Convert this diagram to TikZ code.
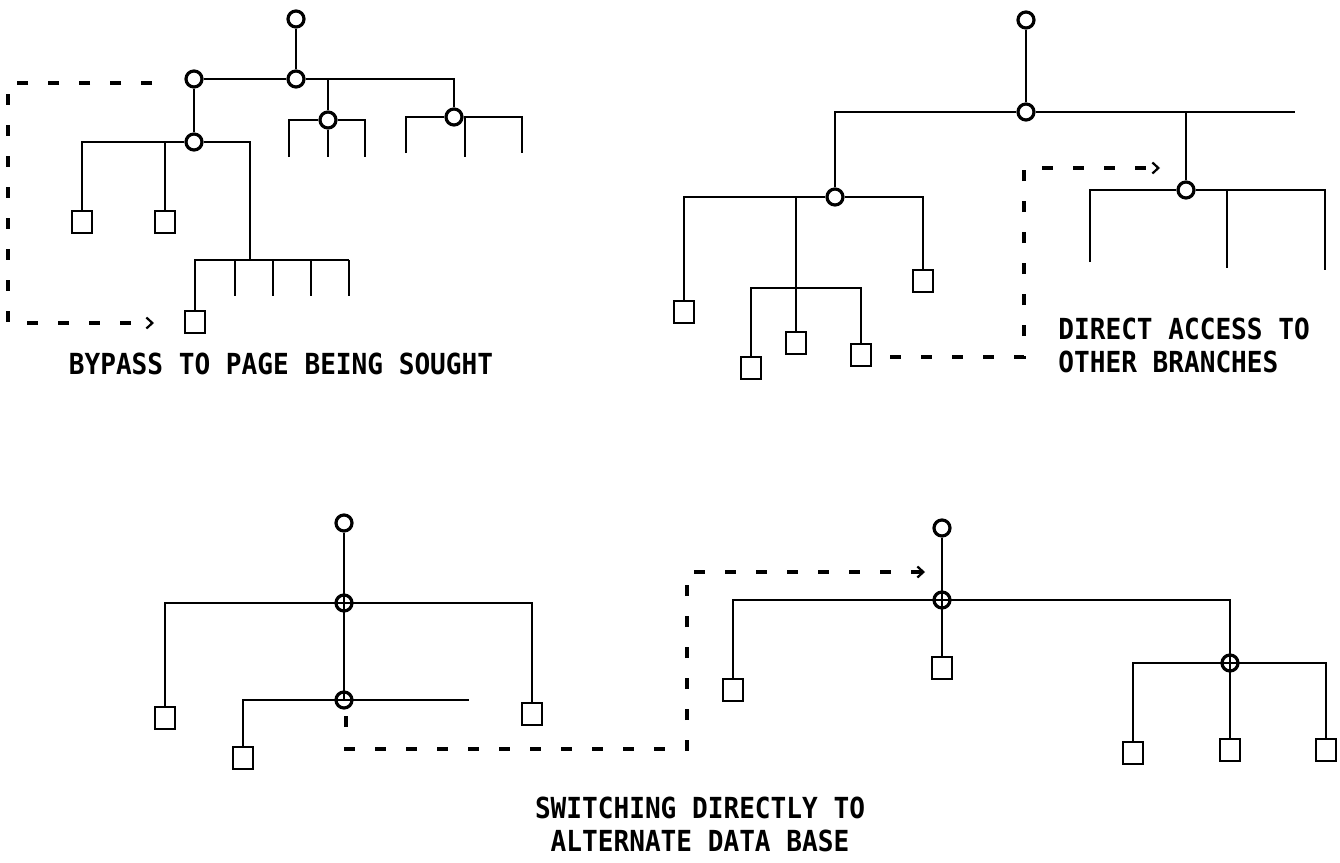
\documentclass[tikz,border=0pt]{standalone}
\usepackage{fontspec}
\newfontfamily\notefont[FakeStretch=0.9]{DejaVu Sans Mono}
\usetikzlibrary{arrows.meta,positioning}

\begin{document}
\begin{tikzpicture}[x=1pt, y=-1pt, line width=2.8pt,
  knot/.style={circle, draw, line width=3.2pt, fill=white, minimum size=16pt, inner sep=0pt},
  crossknot/.style={circle, draw, line width=3.2pt, minimum size=16pt, inner sep=0pt},
  page/.style={draw, line width=2.8pt, fill=white, minimum width=20pt, minimum height=22pt, inner sep=0pt},
  jump/.style={line width=3.6pt, dash pattern=on 11pt off 20pt, -{Straight Barb[length=6pt,width=11pt,line width=2.2pt]}},
  note/.style={font=\notefont\bfseries\fontsize{29}{33}\selectfont, inner sep=0pt}
]
\useasboundingbox (0,0) rectangle (1340,862);

% bypass tree
\node[knot] (root1) at (296,19) {};
\node[knot] (hub1) at (296,79) {};
\node[knot] (left1) at (194,79) {};
\node[knot] (mid1) at (328,120) {};
\node[knot] (right1) at (454,117) {};
\node[knot] (low1) at (194,142) {};
\node[page] (p1) at (82,222) {};
\node[page] (p2) at (165,222) {};
\node[page] (p3) at (195,322) {};
\draw (root1) -- (hub1);
\draw (left1) -- (hub1);
\draw (hub1) -| (right1);
\draw (hub1 -| mid1) -- (mid1);
\draw (left1) -- (low1);
\draw (289,157) |- (mid1) -| (365,157);
\draw (mid1) -- (328,157);
\draw (406,153) |- (right1) -| (522,153);
\draw (465,117) -- (465,157);
\draw (p1) |- (low1) -| (250,260);
\draw (p2) -- (p2 |- low1);
\draw (p3) |- (349,260);
\foreach \x in {235,273,311,349}
  \draw (\x,260) -- (\x,296);
\coordinate (bypassstart) at (152,83);
\coordinate (bypassend) at (154,323);
\draw[jump] (bypassstart) -| (8,323) -- (bypassend);
\node[note] (bypass) at (281,364) {BYPASS TO PAGE BEING SOUGHT};

% direct access tree
\node[knot] (root2) at (1026,20) {};
\node[knot] (hub2) at (1026,112) {};
\node[knot] (left2) at (835,197) {};
\node[knot] (right2) at (1186,190) {};
\node[page] (q1) at (684,312) {};
\node[page] (q2) at (751,368) {};
\node[page] (q3) at (796,343) {};
\node[page] (q4) at (861,355) {};
\node[page] (q5) at (923,281) {};
\draw (root2) -- (hub2);
\draw (left2) |- (hub2);
\draw (hub2) -- (1295,112);
\draw (hub2 -| right2) -- (right2);
\draw (q1) |- (left2) -| (q5);
\draw (796,197) -- (796,288);
\draw (q2) |- (796,288) -| (q4);
\draw (796,288) -- (q3);
\draw (1090,262) |- (right2) -| (1325,270);
\draw (1227,190) -- (1227,268);
\coordinate (accessstart) at (890,357);
\coordinate (accessend) at (1160,168);
\draw[jump] (accessstart) -- (1024,357) |- (accessend);
\node[note, anchor=west, align=left] (access) at (1057,345) {DIRECT ACCESS TO\\OTHER BRANCHES};

% first data base
\node[knot] (root3) at (344,523) {};
\node[crossknot] (hub3) at (344,603) {};
\node[crossknot] (low3) at (344,700) {};
\node[page] (r1) at (165,718) {};
\node[page] (r2) at (243,758) {};
\node[page] (r3) at (532,714) {};
\draw (root3) -- (low3.center);
\draw (r1) |- (hub3.center) -| (r3);
\draw (r2) |- (low3.center) -- (469,700);

% alternate data base
\node[knot] (root4) at (942,528) {};
\node[crossknot] (hub4) at (942,600) {};
\node[crossknot] (low4) at (1230,663) {};
\node[page] (s1) at (733,690) {};
\node[page] (s2) at (942,668) {};
\node[page] (s3) at (1133,753) {};
\node[page] (s4) at (1230,750) {};
\node[page] (s5) at (1326,750) {};
\draw (root4) -- (s2);
\draw (s1) |- (hub4.center) -| (low4.center);
\draw (s3) |- (low4.center) -| (s5);
\draw (low4.center) -- (s4);
\coordinate (switchstart) at (346,716);
\coordinate (switchend) at (925,572);
\draw[jump] (switchstart) |- (687,749) |- (switchend);
\node[note, align=center] (switch) at (700,824) {SWITCHING DIRECTLY TO\\ALTERNATE DATA BASE};
\end{tikzpicture}
\end{document}
